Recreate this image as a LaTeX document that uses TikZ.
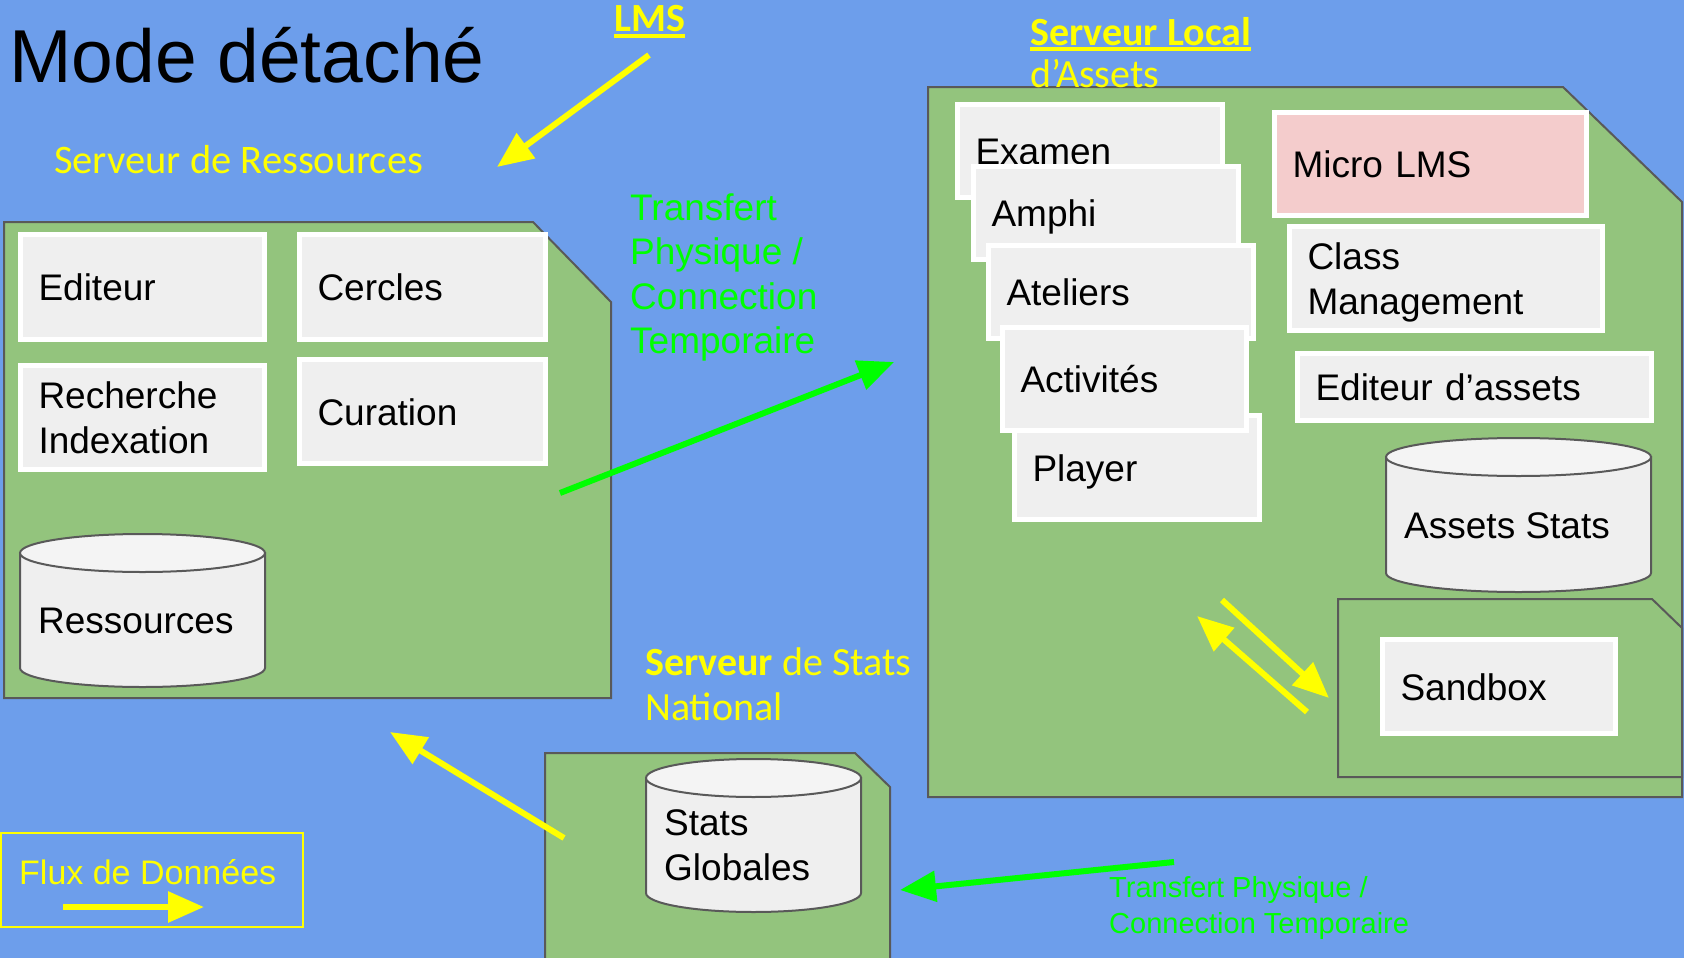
\documentclass[tikz,border=0pt]{standalone}
\usepackage{fontspec}
\setmainfont{Liberation Sans}
\newfontfamily\calfont{Carlito}
\usetikzlibrary{arrows.meta}
\definecolor{bgblue}{HTML}{6D9EEB}
\definecolor{srvgreen}{HTML}{93C47D}
\definecolor{boxgray}{HTML}{EFEFEF}
\definecolor{cyltop}{HTML}{F4F4F4}
\definecolor{lmspink}{HTML}{F4CCCC}
\definecolor{edgegray}{HTML}{595959}
\definecolor{flowyellow}{HTML}{FFFF00}
\definecolor{linkgreen}{HTML}{00FF00}
\newsavebox\ulbox
\newcommand\ulyel[1]{\sbox\ulbox{#1}\rlap{\rule[-6pt]{\wd\ulbox}{3.5pt}}\usebox\ulbox}
\def\dbcyl(#1,#2)(#3,#4){\draw[line width=2pt, draw=edgegray, fill=boxgray] (#1,#2+19) -- (#1,#4-19) arc[start angle=180, end angle=0, x radius={(#3-#1)/2}, y radius=19] -- (#3,#2+19) -- cycle;
	\draw[line width=2pt, draw=edgegray, fill=cyltop] ({(#1+#3)/2},#2+19) ellipse[x radius={(#3-#1)/2}, y radius=19];}

\begin{document}
\begin{tikzpicture}[x=1pt, y=-1pt,
	srv/.style={draw=edgegray, line width=2pt, fill=srvgreen},
	blk/.style={draw=white, line width=5pt, fill=boxgray, inner xsep=18pt, inner ysep=0pt, align=left, font=\fontsize{37}{44.5}\selectfont, text height=27pt, text depth=0pt},
	ylw/.style={text=flowyellow, font=\calfont\fontsize{40.5}{44}\selectfont, inner sep=0pt, anchor=base west, align=left},
	grn/.style={text=linkgreen, inner sep=0pt, anchor=base west, align=left},
	flow/.style={draw=flowyellow, line width=6pt, -{Triangle[length=36pt,width=30pt]}},
	link/.style={draw=linkgreen, line width=6pt, -{Triangle[length=36pt,width=30pt]}}]
	%%%%% START %%%%%
	
	\useasboundingbox (0,0) rectangle (1684,958);
	\fill[bgblue] (0,0) rectangle (1684,958);
	
	% servers
	\draw[srv] (4,222) -- (533,222) -- (611,302) -- (611,698) -- (4,698) -- cycle;
	\draw[srv] (928,87) -- (1563,87) -- (1682,202) -- (1682,797) -- (928,797) -- cycle;
	\draw[srv] (1338,599) -- (1652,599) -- (1682,628) -- (1682,777) -- (1338,777) -- cycle;
	\draw[srv] (545,753) -- (855,753) -- (890,787) -- (890,966) -- (545,966) -- cycle;
	
	\node[font=\fontsize{75}{80}\selectfont, inner sep=0pt, anchor=base west] (title) at (9,82) {Mode détaché};
	
	% serveur de ressources
	\node[blk, text width=208pt, minimum height=105pt] (editeur) at (142.5,287) {Editeur};
	\node[blk, text width=210pt, minimum height=105pt] (cercles) at (422.5,287) {Cercles};
	\node[blk, text width=208pt, minimum height=104pt, text depth=44.5pt] (recherche) at (142.5,417.5) {Recherche\\Indexation};
	\node[blk, text width=210pt, minimum height=104pt] (curation) at (422.5,411.5) {Curation};
	\dbcyl(20,534)(265,687)
	\node[font=\fontsize{37}{44.5}\selectfont, inner sep=0pt, anchor=base west] (ressources) at (38,633) {Ressources};
	
	% serveur local
	\node[blk, text width=229pt, minimum height=93pt] (examen) at (1090,151) {Examen};
	\node[blk, text width=229pt, minimum height=93pt] (amphi) at (1106,213) {Amphi};
	\node[blk, text width=229pt, minimum height=93pt] (ateliers) at (1121,292) {Ateliers};
	\node[blk, text width=209pt, minimum height=104pt] (player) at (1137,467.5) {Player};
	\node[blk, text width=208pt, minimum height=103pt] (activites) at (1124.5,379) {Activités};
	\node[blk, fill=lmspink, text width=276pt, minimum height=103pt] (microlms) at (1430.5,164) {Micro LMS};
	\node[blk, text width=277pt, minimum height=104pt, text depth=44.5pt] (classmgmt) at (1446,278.5) {Class\\Management};
	\node[blk, text width=318pt, minimum height=67pt] (editassets) at (1474.5,387) {Editeur d’assets};
	\dbcyl(1386,438)(1651,592)
	\node[font=\fontsize{37}{44.5}\selectfont, inner sep=0pt, anchor=base west] (assetstats) at (1404,538) {Assets Stats};
	\node[blk, text width=197pt, minimum height=94pt] (sandbox) at (1499,686.5) {Sandbox};
	
	% serveur de stats
	\dbcyl(646,759)(861,912)
	\node[font=\fontsize{37}{45}\selectfont, inner sep=0pt, anchor=base west, align=left] (statsglob) at (664,880) {Stats\\Globales};
	
	% labels
	\node[ylw, font=\calfont\bfseries\fontsize{40}{44}\selectfont] (lms) at (614,32) {\ulyel{LMS}};
	\node[ylw] (ressrv) at (54,173) {Serveur de Ressources};
	\node[ylw, font=\calfont\fontsize{40}{43}\selectfont] (localsrv) at (1030,88) {\textbf{\ulyel{Serveur Local}}\\d’Assets};
	\node[ylw, font=\calfont\fontsize{40}{45}\selectfont] (statsrv) at (645,720) {\textbf{Serveur} de Stats\\National};
	\node[grn, font=\fontsize{37}{44.5}\selectfont] (transfer1) at (630,353.5) {Transfert\\Physique /\\Connection\\Temporaire};
	\node[grn, font=\fontsize{29}{36}\selectfont] (transfer2) at (1109,933) {Transfert Physique /\\Connection Temporaire};
	
	% legende
	\draw[flowyellow, line width=2pt] (1,833) rectangle (303,927);
	\node[text=flowyellow, font=\fontsize{34}{40}\selectfont, inner sep=0pt, anchor=base west] (legend) at (19,884) {Flux de Données};
	
	% flux
	\coordinate (legA) at (63,907);
	\coordinate (legB) at (204,907);
	\coordinate (lmsA) at (649,55);
	\coordinate (lmsB) at (497,167);
	\coordinate (upA) at (560,493);
	\coordinate (upB) at (894,362);
	\coordinate (stA) at (564,838);
	\coordinate (stB) at (390,732);
	\coordinate (dnA) at (1174,862);
	\coordinate (dnB) at (900,890);
	\coordinate (sbA) at (1222,600);
	\coordinate (sbB) at (1329,698);
	\coordinate (sbC) at (1307,712);
	\coordinate (sbD) at (1197,616);
	
	\draw[flow] (legA) -- (legB);
	\draw[flow] (lmsA) -- (lmsB);
	\draw[flow] (stA) -- (stB);
	\draw[flow] (sbA) -- (sbB);
	\draw[flow] (sbC) -- (sbD);
	\draw[link] (upA) -- (upB);
	\draw[link] (dnA) -- (dnB);
	
	%%%%% END %%%%%
\end{tikzpicture}
\end{document}
